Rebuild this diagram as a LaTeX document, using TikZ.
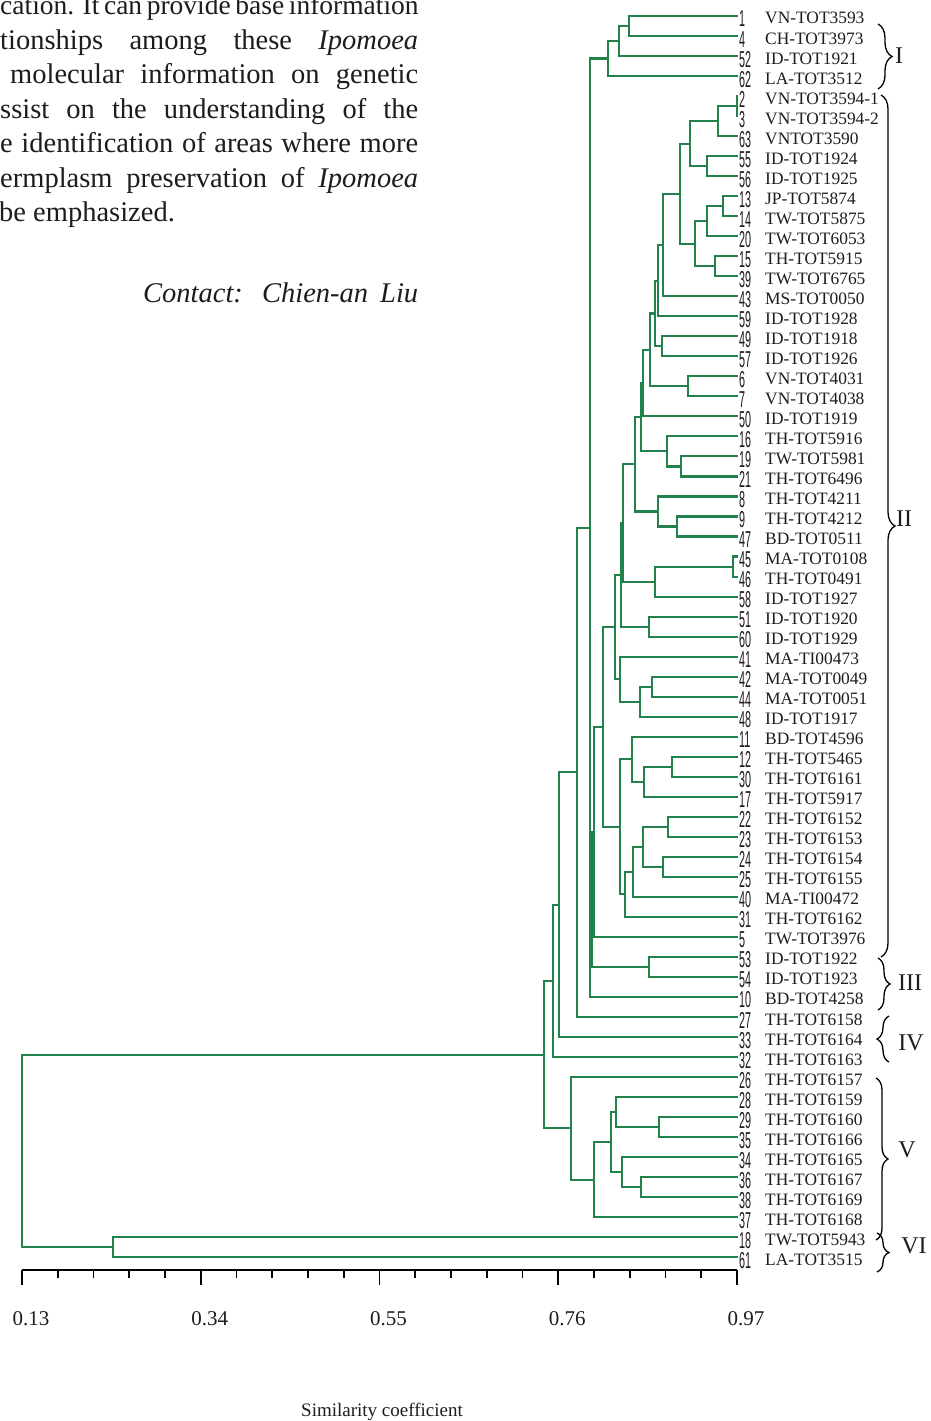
\documentclass[tikz,border=0pt]{standalone}
\usepackage{graphicx}
\usepackage{fontspec}
\setmainfont{Liberation Serif}
\newfontfamily\numfont{Liberation Sans}
\usetikzlibrary{calc,decorations.pathreplacing}
\definecolor{tree}{RGB}{35,130,75}
\definecolor{txt}{RGB}{30,28,28}
\newcommand\nd[4]{%
  \path let \p1=($(#3)!0.5!(#4)$) in coordinate (#1) at (#2pt,\y1);
  \draw[br] (#3) -| (#1) |- (#4);}
\begin{document}
\begin{tikzpicture}[x=1pt,y=-1pt,
  br/.style={draw=tree,line width=2.1pt},
  axisline/.style={draw=black,line width=1.7pt},
  brc/.style={draw=black,line width=1.3pt,decorate,decoration={brace,amplitude=#1}},
  para/.style={inner sep=0pt,text=txt,font=\fontsize{28.5}{34}\selectfont},
  leaflab/.style={inner sep=0pt,text=txt,font=\fontsize{17.4}{20}\selectfont},
  numlab/.style={inner sep=0pt,text=txt,font=\numfont\fontsize{23}{24}\selectfont},
  axlab/.style={inner sep=0pt,text=txt,font=\fontsize{21}{24}\selectfont},
  ttl/.style={inner sep=0pt,text=txt,font=\fontsize{19}{22}\selectfont},
  roman/.style={inner sep=0pt,text=txt,font=\fontsize{24}{26}\selectfont}]
\useasboundingbox (0,0) rectangle (930,1421);
\clip (0,0) rectangle (930,1421);
\fill[white] (0,0) rectangle (930,1421);

% paragraph text
\node[para,anchor=base west,font=\fontsize{27.5}{32}\selectfont] (p1) at (0,14.5) {\makebox[418pt][s]{cation. It can provide base information}};
\node[para,anchor=base west] (p2) at (0,49) {\makebox[418pt][s]{tionships among these \textit{Ipomoea}}};
\node[para,anchor=base west] (p3) at (10,83.5) {\makebox[408pt][s]{molecular information on genetic}};
\node[para,anchor=base west] (p4) at (0,118) {\makebox[418pt][s]{ssist on the understanding of the}};
\node[para,anchor=base west] (p5) at (0,152.5) {\makebox[418pt][s]{e identification of areas where more}};
\node[para,anchor=base west] (p6) at (0,187) {\makebox[418pt][s]{ermplasm preservation of \textit{Ipomoea}}};
\node[para,anchor=base west] (p7) at (-1,221.5) {be emphasized.};
\node[para,anchor=base west] (contact) at (143,302) {\makebox[275pt][s]{\itshape Contact: Chien-an Liu}};

% leaves
\foreach \i/\num/\nm in {0/1/VN-TOT3593,1/4/CH-TOT3973,2/52/ID-TOT1921,3/62/LA-TOT3512,
 4/2/VN-TOT3594-1,5/3/VN-TOT3594-2,6/63/VNTOT3590,7/55/ID-TOT1924,8/56/ID-TOT1925,
 9/13/JP-TOT5874,10/14/TW-TOT5875,11/20/TW-TOT6053,12/15/TH-TOT5915,13/39/TW-TOT6765,
 14/43/MS-TOT0050,15/59/ID-TOT1928,16/49/ID-TOT1918,17/57/ID-TOT1926,18/6/VN-TOT4031,
 19/7/VN-TOT4038,20/50/ID-TOT1919,21/16/TH-TOT5916,22/19/TW-TOT5981,23/21/TH-TOT6496,
 24/8/TH-TOT4211,25/9/TH-TOT4212,26/47/BD-TOT0511,27/45/MA-TOT0108,28/46/TH-TOT0491,
 29/58/ID-TOT1927,30/51/ID-TOT1920,31/60/ID-TOT1929,32/41/MA-TI00473,33/42/MA-TOT0049,
 34/44/MA-TOT0051,35/48/ID-TOT1917,36/11/BD-TOT4596,37/12/TH-TOT5465,38/30/TH-TOT6161,
 39/17/TH-TOT5917,40/22/TH-TOT6152,41/23/TH-TOT6153,42/24/TH-TOT6154,43/25/TH-TOT6155,
 44/40/MA-TI00472,45/31/TH-TOT6162,46/5/TW-TOT3976,47/53/ID-TOT1922,48/54/ID-TOT1923,
 49/10/BD-TOT4258,50/27/TH-TOT6158,51/33/TH-TOT6164,52/32/TH-TOT6163,53/26/TH-TOT6157,
 54/28/TH-TOT6159,55/29/TH-TOT6160,56/35/TH-TOT6166,57/34/TH-TOT6165,58/36/TH-TOT6167,
 59/38/TH-TOT6169,60/37/TH-TOT6168,61/18/TW-TOT5943,62/61/LA-TOT3515}{
  \coordinate (L\i) at (738,{16+20.02*\i});
  \node[numlab,anchor=base west] (N\i) at (739,{16+20.02*\i+11}) {\scalebox{0.47}[1]{\num}};
  \node[leaflab,anchor=base west] (T\i) at (765,{16+20.02*\i+8}) {\nm};
}

% tree
\nd{a1}{629}{L0}{L1}
\nd{a2}{619}{a1}{L2}
\nd{a3}{608}{a2}{L3}
\nd{b1}{737}{L4}{L5}
\nd{b2}{718}{b1}{L6}
\nd{b3}{707}{L7}{L8}
\nd{b4}{690}{b2}{b3}
\nd{b5}{723}{L9}{L10}
\nd{b6}{707}{b5}{L11}
\nd{b7}{715}{L12}{L13}
\nd{b8}{695}{b6}{b7}
\nd{b9}{680}{b4}{b8}
\nd{b10}{663}{b9}{L14}
\nd{b11}{658}{b10}{L15}
\nd{b12}{662}{L16}{L17}
\nd{b13}{655}{b11}{b12}
\nd{b14}{688}{L18}{L19}
\nd{b15}{650}{b13}{b14}
\nd{b16}{643}{b15}{L20}
\nd{b17}{681}{L22}{L23}
\nd{b18}{667}{L21}{b17}
\nd{b19}{641}{b16}{b18}
\nd{b20}{677}{L25}{L26}
\nd{b21}{658}{L24}{b20}
\nd{b22}{635}{b19}{b21}
\nd{b23}{733}{L27}{L28}
\nd{b24}{655}{b23}{L29}
\nd{b25}{623}{b22}{b24}
\nd{b26}{649}{L30}{L31}
\nd{b27}{621}{b25}{b26}
\nd{b28}{652}{L33}{L34}
\nd{b29}{640}{b28}{L35}
\nd{b30}{620}{L32}{b29}
\nd{b31}{615}{b27}{b30}
\nd{c1}{672}{L37}{L38}
\nd{c2}{644}{c1}{L39}
\nd{c3}{632}{L36}{c2}
\nd{c4}{668}{L40}{L41}
\nd{c5}{663}{L42}{L43}
\nd{c6}{643}{c4}{c5}
\nd{c7}{633}{c6}{L44}
\nd{c8}{625}{c7}{L45}
\nd{c9}{620}{c3}{c8}
\nd{d1}{603}{b31}{c9}
\nd{d2}{594}{d1}{L46}
\nd{d3}{649}{L47}{L48}
\nd{d4}{592}{d2}{d3}
\nd{d5}{590}{a3}{L49}
\draw[br] (d5 |- d4) -- (d4);
\nd{d6}{577}{d5}{L50}
\nd{d7}{559}{d6}{L51}
\nd{d8}{553}{d7}{L52}
\nd{e1}{659}{L55}{L56}
\nd{e2}{616}{L54}{e1}
\nd{e3}{641}{L58}{L59}
\nd{e4}{622}{L57}{e3}
\nd{e5}{611}{e2}{e4}
\nd{e6}{594}{e5}{L60}
\nd{e7}{571}{L53}{e6}
\nd{f1}{544}{d8}{e7}
\nd{g1}{113}{L61}{L62}
\nd{root}{22}{f1}{g1}

% braces and group labels
\draw[brc=14] (878,24) -- (878,89);
\node[roman] (gI) at (899,56) {I};
\draw[brc=14] (881,95) -- (881,957);
\node[roman] (gII) at (904,519) {II};
\draw[brc=12] (878,958) -- (878,1010);
\node[roman] (gIII) at (910,983) {III};
\draw[brc=12] (889,1062) -- (889,1016);
\node[roman] (gIV) at (911,1043) {IV};
\draw[brc=12] (876,1078) -- (876,1240);
\node[roman] (gV) at (907,1150) {V};
\draw[brc=12] (877,1233) -- (877,1272);
\node[roman] (gVI) at (914,1246) {VI};

% axis
\coordinate (ax0) at (22,1270);
\coordinate (ax1) at (737,1270);
\draw[axisline] (ax0) -- (ax1);
\foreach \k in {0,...,20}{
  \pgfmathsetmacro\tx{22+35.75*\k}
  \coordinate (tk\k) at (\tx,1270);
  \draw[axisline] (tk\k) -- ++(0,8);
}
\foreach \k/\lab in {0/0.13,5/0.34,10/0.55,15/0.76,20/0.97}{
  \draw[axisline] (tk\k) -- ++(0,15);
  \node[axlab,anchor=base] (lab\k) at ($(tk\k)+(9,55)$) {\lab};
}
\node[ttl,anchor=base] (title) at (382,1416) {Similarity coefficient};
\end{tikzpicture}
\end{document}
